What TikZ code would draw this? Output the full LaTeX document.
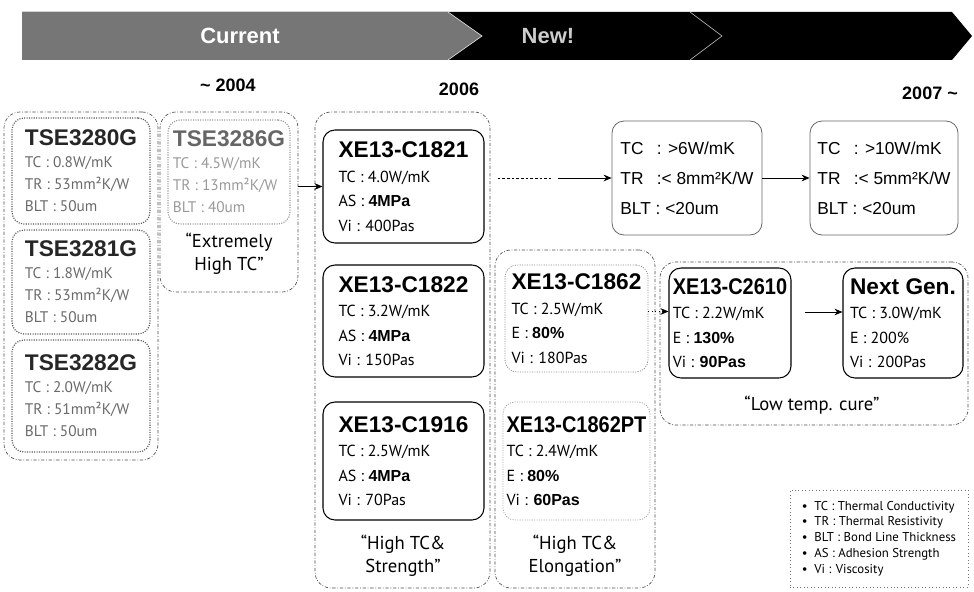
\documentclass[tikz,border=0pt]{standalone}
\usepackage{fontspec}
\setmainfont{PT Sans}
\newfontfamily\headfont{Liberation Sans}
\usetikzlibrary{arrows.meta, positioning, calc}
\definecolor{bannergray}{RGB}{118, 118, 118}
\definecolor{oldtext}{RGB}{105, 105, 105}
\newcommand\prodname[1]{{\headfont\bfseries\fontsize{17}{18}\selectfont #1}}
\newcommand\val[1]{{\headfont\bfseries #1}}
\tikzset{
    sz/.style 2 args={
        minimum width=#1*0.75pt,
        minimum height=#2*0.75pt
    },
    grp/.style={
        draw=black!70,
        dash pattern={on 2.5pt off 1.3pt on 0.6pt off 1.3pt},
        line width=0.5pt,
        rounded corners=12pt
    },
    prod/.style={
        rectangle,
        draw,
        line width=0.8pt,
        rounded corners=9pt,
        align=left,
        inner sep=2pt,
        font=\fontsize{12}{18.4}\selectfont
    },
    oldprod/.style={
        prod,
        draw=black!65,
        densely dotted,
        line width=0.9pt,
        text=oldtext,
        font=\fontsize{11.5}{16.5}\selectfont
    },
    target/.style={
        rectangle,
        draw=black!60,
        line width=0.6pt,
        rounded corners=9pt,
        align=left,
        font=\headfont\fontsize{13}{22.5}\selectfont
    },
    caption/.style={
        align=center,
        font=\fontsize{14}{17.5}\selectfont
    },
    year/.style={
        font=\headfont\bfseries\fontsize{13.5}{16}\selectfont
    },
    flow/.style={
        -{Stealth[length=6pt, width=5pt]},
        line width=0.6pt
    }
}

\begin{document}
\begin{tikzpicture}[x=0.75pt, y=-0.75pt,
        banner/.style={font=\headfont\bfseries\fontsize{16.5}{18}\selectfont}
    ]
    \useasboundingbox (0,0) rectangle (974,592);
    % timeline banner along the top
    \fill[black] (22,12) -- (952,12) -- (972,36) -- (952,60) -- (22,60) -- cycle;
    \fill[bannergray] (22,12) -- (448,12) -- (482,36) -- (448,60) -- (22,60) -- cycle;
    \draw[white!85!black, line width=0.5pt] (448,12) -- (482,36) -- (448,60);
    \draw[white!70!black, line width=0.5pt] (690,12) -- (722,36) -- (690,60);
    \node[banner, text=white]    (cur) at (240,36) {Current};
    \node[banner, text=black!20] (new) at (548,36) {New!};
    \node[year] (y04) at (228,85) {\textasciitilde\ 2004};
    \node[year] (y06) at (459,89) {2006};
    \node[year] (y07) at (930,93) {2007 \textasciitilde};

    % dash-dotted families
    \node[grp, sz={154}{348}] (g1) at (81,286) {};
    \node[grp, sz={138}{180}] (g2) at (229,202) {};
    \node[grp, sz={175}{476}] (g3) at (402.5,350) {};
    \node[grp, sz={160}{338}] (g4) at (575,419) {};
    \node[grp, sz={308}{163}] (g5) at (814,343.5) {};

    % current grades
    \node[oldprod, sz={138}{106}] (t3280) at (81,171)
        {{\color{black!85}\prodname{TSE3280G}}\\TC : 0.8W/mK\\TR : 53mm²K/W\\BLT : 50um};
    \node[oldprod, sz={138}{104}] (t3281) at (81,282)
        {{\color{black!85}\prodname{TSE3281G}}\\TC : 1.8W/mK\\TR : 53mm²K/W\\BLT : 50um};
    \node[oldprod, sz={138}{112}] (t3282) at (81,396)
        {{\color{black!85}\prodname{TSE3282G}}\\TC : 2.0W/mK\\TR : 51mm²K/W\\BLT : 50um};
    \node[oldprod, draw=black!40, text=black!40, sz={122}{104}] (t3286) at (229,172)
        {{\color{black!60}\prodname{TSE3286G}}\\TC : 4.5W/mK\\TR : 13mm²K/W\\BLT : 40um};
    \node[caption] (cap2) at (229,254) {``Extremely\\High TC''};

    % new grades
    \node[prod, sz={161}{113}] (c1821) at (403.5,186.5)
        {\prodname{XE13-C1821}\\TC : 4.0W/mK\\AS : \val{4MPa}\\Vi : 400Pas};
    \node[prod, sz={161}{112}] (c1822) at (403.5,321)
        {\prodname{XE13-C1822}\\TC : 3.2W/mK\\AS : \val{4MPa}\\Vi : 150Pas};
    \node[prod, sz={161}{118}] (c1916) at (403.5,461)
        {\prodname{XE13-C1916}\\TC : 2.5W/mK\\AS : \val{4MPa}\\Vi : 70Pas};
    \node[caption] (cap3) at (403,556) {``High TC\&\\Strength''};

    \node[prod, draw=black!45, densely dotted, line width=0.6pt, sz={143}{107}] (c1862) at (576.5,318.5)
        {\prodname{XE13-C1862}\\TC : 2.5W/mK\\E : \val{80\%}\\Vi : 180Pas};
    \node[prod, draw=black!35, densely dotted, line width=0.6pt, sz={147}{118}] (c1862pt) at (576.5,461)
        {\prodname{\scalebox{0.88}[1]{XE13-C1862PT}}\\TC : 2.4W/mK\\E : \val{80\%}\\Vi : \val{60Pas}};
    \node[caption] (cap4) at (575,556) {``High TC\&\\Elongation''};

    \node[prod, sz={122}{110}] (c2610) at (730,323)
        {\prodname{\scalebox{0.88}[1]{XE13-C2610}}\\TC : 2.2W/mK\\E : \val{130\%}\\Vi : \val{90Pas}};
    \node[prod, sz={120}{110}] (nextgen) at (903,323)
        {\prodname{Next Gen.}\\TC : 3.0W/mK\\E : 200\%\\Vi : 200Pas};
    \node[caption] (cap5) at (812,405) {``Low temp. cure''};

    % 2007 targets
    \node[target, sz={150}{114}] (tgtA) at (687,178)
        {\makebox[2.1em][l]{TC}: >6W/mK\\\makebox[2.1em][l]{TR}:< 8mm²K/W\\BLT : <20um};
    \node[target, sz={148}{114}] (tgtB) at (884,178)
        {\makebox[2.1em][l]{TC}: >10W/mK\\\makebox[2.1em][l]{TR}:< 5mm²K/W\\BLT : <20um};

    % abbreviations
    \node[draw=black!55, dotted, line width=0.6pt, sz={178}{97}, align=left,
          font=\fontsize{9.6}{11.9}\selectfont] (legend) at (879,538.5)
        {\textbullet\hspace{5pt}TC : Thermal Conductivity\\
         \textbullet\hspace{5pt}TR : Thermal Resistivity\\
         \textbullet\hspace{5pt}BLT : Bond Line Thickness\\
         \textbullet\hspace{5pt}AS : Adhesion Strength\\
         \textbullet\hspace{5pt}Vi : Viscosity};

    % connectors
    \coordinate (brk) at (551,178);
    \coordinate (lt)  at ($(c1862.east)+(0,-7)$);
    \coordinate (ng)  at ($(c2610.east)+(0,-11)$);
    \draw[flow] (g2.east |- c1821.west) -- (c1821.west);
    \draw[line width=0.6pt, dash pattern={on 2pt off 1.5pt}] ($(c1821.east |- tgtA.west)+(13,0)$) -- (brk);
    \draw[flow] ($(brk)+(7,0)$) -- (tgtA.west);
    \draw[flow] (tgtA.east) -- (tgtB.west);
    \draw[flow, dotted] (lt) -- (lt -| c2610.west);
    \draw[flow, shorten <=10pt] (ng) -- (ng -| nextgen.west);
\end{tikzpicture}
\end{document}
